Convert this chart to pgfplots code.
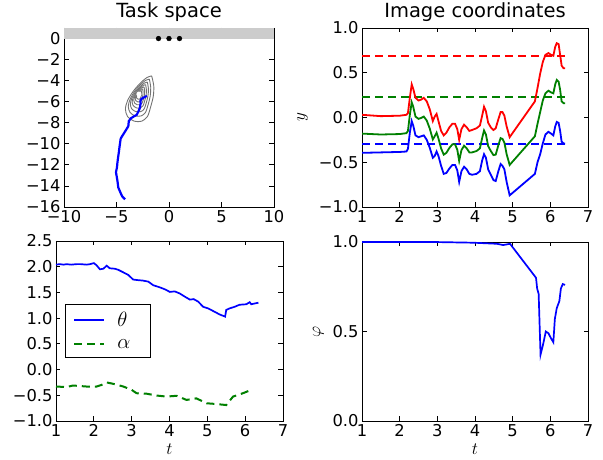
\documentclass[border=0pt]{standalone}
\usepackage{fontspec}
\setmainfont{DejaVu Sans}
\usepackage{pgfplots}
\pgfplotsset{compat=1.18}

\definecolor{mblue}{rgb}{0,0,1}
\definecolor{mgreen}{rgb}{0,0.5,0}
\definecolor{mred}{rgb}{1,0,0}
\definecolor{band}{rgb}{0.8,0.8,0.8}
\definecolor{cont}{rgb}{0.45,0.45,0.45}

\pgfplotsset{
  every axis/.append style={
    scale only axis,
    anchor=south west,
    axis line style={line width=0.9pt},
    tick style={black, line width=0.8pt},
    major tick length=4.5pt,
    tick align=inside,
    /pgf/number format/assume math mode=true,
    tick label style={font=\fontsize{16.3}{18}\selectfont},
    label style={font=\fontsize{16.3}{18}\selectfont},
    title style={font=\fontsize{19.5}{22}\selectfont, yshift=-3pt},
  },
}

\begin{document}
\begin{tikzpicture}[x=1pt,y=1pt]
\useasboundingbox (0,0) rectangle (603,460);

% task space
\begin{axis}[at={(64pt,253pt)}, width=210pt, height=179pt,
  xmin=-10, xmax=10, ymin=-16, ymax=1,
  title={Task space},
  xtick={-10,-5,0,5,10}, xticklabels={−10,−5,0,5,10},
  ytick={-16,-14,-12,-10,-8,-6,-4,-2,0},
  yticklabels={−16,−14,−12,−10,−8,−6,−4,−2,0}]
\addplot[fill=band, draw=none] coordinates {(-10,0) (10,0) (10,1) (-10,1)} -- cycle;
\addplot[only marks, mark=*, mark size=2.4pt, black] coordinates {(-1,0) (0,0) (1,0)};
% density contours
\addplot[draw=cont, line width=0.9pt, smooth] coordinates {(-1.65,-3.55) (-1.45,-4.50) (-1.50,-5.50) (-1.75,-6.50) (-2.05,-7.40) (-2.60,-7.85) (-3.30,-7.85) (-3.95,-7.40) (-4.15,-6.70) (-3.95,-5.90) (-3.40,-5.00) (-2.70,-4.20) (-2.10,-3.70) (-1.65,-3.55)};
\addplot[draw=cont, line width=0.9pt, smooth] coordinates {(-1.87,-3.86) (-1.74,-4.64) (-1.79,-5.46) (-1.99,-6.28) (-2.24,-7.02) (-2.65,-7.35) (-3.22,-7.35) (-3.71,-7.02) (-3.88,-6.44) (-3.71,-5.79) (-3.30,-5.05) (-2.73,-4.39) (-2.24,-3.98) (-1.87,-3.86)};
\addplot[draw=cont, line width=0.9pt, smooth] coordinates {(-2.06,-4.14) (-1.96,-4.77) (-2.00,-5.43) (-2.16,-6.09) (-2.36,-6.68) (-2.69,-6.94) (-3.15,-6.94) (-3.55,-6.68) (-3.68,-6.22) (-3.55,-5.69) (-3.22,-5.10) (-2.75,-4.57) (-2.36,-4.24) (-2.06,-4.14)};
\addplot[draw=cont, line width=0.9pt, smooth] coordinates {(-2.23,-4.38) (-2.15,-4.87) (-2.18,-5.39) (-2.31,-5.91) (-2.47,-6.38) (-2.72,-6.59) (-3.09,-6.59) (-3.40,-6.38) (-3.51,-6.02) (-3.40,-5.60) (-3.14,-5.13) (-2.78,-4.72) (-2.47,-4.46) (-2.23,-4.38)};
\addplot[draw=cont, line width=0.9pt, smooth] coordinates {(-2.38,-4.59) (-2.32,-4.97) (-2.34,-5.37) (-2.44,-5.77) (-2.56,-6.13) (-2.76,-6.29) (-3.04,-6.29) (-3.28,-6.13) (-3.36,-5.85) (-3.28,-5.53) (-3.08,-5.17) (-2.80,-4.85) (-2.56,-4.65) (-2.38,-4.59)};
\addplot[draw=cont, line width=0.9pt, smooth] coordinates {(-2.51,-4.78) (-2.47,-5.05) (-2.48,-5.34) (-2.55,-5.63) (-2.64,-5.90) (-2.79,-6.01) (-2.99,-6.01) (-3.16,-5.90) (-3.22,-5.69) (-3.16,-5.46) (-3.02,-5.20) (-2.81,-4.97) (-2.64,-4.82) (-2.51,-4.78)};
\addplot[draw=cont, line width=0.9pt, smooth] coordinates {(-2.63,-4.95) (-2.60,-5.13) (-2.61,-5.32) (-2.66,-5.51) (-2.72,-5.68) (-2.81,-5.76) (-2.94,-5.76) (-3.06,-5.68) (-3.10,-5.55) (-3.06,-5.40) (-2.96,-5.23) (-2.83,-5.08) (-2.72,-4.98) (-2.63,-4.95)};
% trajectory
\addplot[mblue, line width=2.2pt] coordinates {
  (-4.19,-15.27) (-4.45,-15.0) (-4.55,-14.8) (-4.83,-14.15) (-4.92,-13.45)
  (-5.05,-12.7) (-4.95,-12.2) (-4.92,-11.86) (-4.85,-11.3) (-4.79,-10.9)
  (-4.70,-10.2) (-4.60,-9.5) (-4.45,-9.25) (-4.19,-8.84) (-3.95,-8.45)
  (-3.87,-8.3) (-3.83,-7.85) (-3.62,-7.57) (-3.35,-7.4) (-3.08,-7.25)
  (-2.90,-6.9) (-2.78,-6.6) (-2.70,-6.14) (-2.72,-5.9) (-2.60,-5.72)
  (-2.40,-5.6) (-2.10,-5.45)};
\addplot[only marks, mark=*, mark size=2.3pt, fill=white, draw=white] coordinates {(-2.86,-5.28)};
\end{axis}

% image coordinates
\begin{axis}[at={(362pt,253pt)}, width=226pt, height=179pt,
  xmin=1, xmax=7, ymin=-1, ymax=1,
  title={Image coordinates},
  xtick={1,2,3,4,5,6,7},
  ytick={-1,-0.5,0,0.5,1}, yticklabels={−1.0,−0.5,0.0,0.5,1.0},
  ylabel={$y$}, ylabel shift=4pt]
% targets
\addplot[draw=mred, line width=1.8pt, dash pattern=on 8pt off 5pt] coordinates {(1,0.69) (6.39,0.69)};
\addplot[draw=mgreen, line width=1.8pt, dash pattern=on 8pt off 5pt] coordinates {(1,0.225) (6.39,0.225)};
\addplot[draw=mblue, line width=1.8pt, dash pattern=on 8pt off 5pt] coordinates {(1,-0.30) (6.39,-0.30)};
\addplot[mred, line width=1.8pt] coordinates {
  (1.00,0.03) (1.50,0.015) (2.00,0.02) (2.18,0.03) (2.22,0.05) (2.27,0.22)
  (2.32,0.37) (2.36,0.32) (2.42,0.22) (2.50,0.19) (2.57,0.20) (2.64,0.22)
  (2.72,0.18) (2.80,0.09) (2.88,-0.04) (2.93,0.01) (2.98,0.04) (3.03,-0.04)
  (3.10,-0.15) (3.17,-0.20) (3.24,-0.17) (3.32,-0.11) (3.40,-0.07) (3.47,-0.07)
  (3.53,-0.13) (3.58,-0.25) (3.64,-0.13) (3.71,-0.08) (3.78,-0.11) (3.85,-0.15)
  (3.92,-0.14) (4.04,-0.12) (4.13,-0.09) (4.19,0.02) (4.24,0.12) (4.29,0.07)
  (4.35,-0.06) (4.42,-0.11) (4.49,-0.14) (4.55,-0.12) (4.62,-0.02) (4.68,0.06)
  (4.73,0.06) (4.78,0.02) (4.84,-0.10) (4.92,-0.22) (5.59,0.18) (5.66,0.33)
  (5.73,0.49) (5.80,0.62) (5.87,0.70) (5.95,0.72) (6.02,0.70) (6.08,0.69)
  (6.13,0.79) (6.17,0.83) (6.22,0.82) (6.26,0.70) (6.30,0.58) (6.35,0.55) (6.39,0.55)};
\addplot[mgreen, line width=1.8pt] coordinates {
  (1.00,-0.18) (1.50,-0.19) (2.00,-0.185) (2.18,-0.175) (2.22,-0.15) (2.27,0.03)
  (2.32,0.17) (2.36,0.12) (2.42,0.01) (2.50,-0.015) (2.57,-0.005) (2.64,0.01)
  (2.72,-0.035) (2.80,-0.125) (2.88,-0.245) (2.93,-0.21) (2.98,-0.17) (3.03,-0.235)
  (3.10,-0.345) (3.17,-0.415) (3.24,-0.395) (3.32,-0.34) (3.40,-0.30) (3.47,-0.30)
  (3.53,-0.36) (3.58,-0.485) (3.64,-0.365) (3.71,-0.315) (3.78,-0.345) (3.85,-0.39)
  (3.92,-0.39) (4.04,-0.375) (4.13,-0.345) (4.19,-0.23) (4.24,-0.145) (4.29,-0.19)
  (4.35,-0.32) (4.42,-0.375) (4.49,-0.42) (4.55,-0.415) (4.62,-0.31) (4.68,-0.23)
  (4.73,-0.24) (4.78,-0.28) (4.84,-0.41) (4.92,-0.53) (5.59,-0.21) (5.66,-0.07)
  (5.73,0.06) (5.80,0.19) (5.87,0.27) (5.95,0.30) (6.02,0.28) (6.08,0.27)
  (6.13,0.37) (6.17,0.42) (6.22,0.40) (6.26,0.31) (6.30,0.18) (6.35,0.16) (6.39,0.16)};
\addplot[mblue, line width=1.8pt] coordinates {
  (1.00,-0.395) (1.50,-0.39) (2.00,-0.385) (2.18,-0.38) (2.22,-0.35) (2.27,-0.17)
  (2.32,-0.04) (2.36,-0.09) (2.42,-0.20) (2.50,-0.22) (2.57,-0.21) (2.64,-0.20)
  (2.72,-0.25) (2.80,-0.34) (2.88,-0.45) (2.93,-0.43) (2.98,-0.38) (3.03,-0.43)
  (3.10,-0.54) (3.17,-0.63) (3.24,-0.62) (3.32,-0.57) (3.40,-0.53) (3.47,-0.53)
  (3.53,-0.59) (3.58,-0.72) (3.64,-0.60) (3.71,-0.55) (3.78,-0.58) (3.85,-0.63)
  (3.92,-0.64) (4.04,-0.63) (4.13,-0.60) (4.19,-0.48) (4.24,-0.41) (4.29,-0.45)
  (4.35,-0.58) (4.42,-0.64) (4.49,-0.70) (4.55,-0.71) (4.62,-0.60) (4.68,-0.52)
  (4.73,-0.54) (4.78,-0.58) (4.84,-0.72) (4.92,-0.87) (5.59,-0.63) (5.66,-0.50)
  (5.73,-0.41) (5.80,-0.29) (5.87,-0.19) (5.95,-0.16) (6.02,-0.18) (6.08,-0.20)
  (6.13,-0.10) (6.17,-0.05) (6.22,-0.06) (6.26,-0.15) (6.30,-0.27) (6.35,-0.29) (6.39,-0.29)};
\end{axis}

% angles
\begin{axis}[at={(56pt,39pt)}, width=227pt, height=180pt,
  xmin=1, xmax=7, ymin=-1, ymax=2.5,
  xtick={1,2,3,4,5,6,7},
  ytick={-1,-0.5,0,0.5,1,1.5,2,2.5},
  yticklabels={−1.0,−0.5,0.0,0.5,1.0,1.5,2.0,2.5},
  xlabel={$t$},
  reverse legend,
  legend cell align=left,
  legend image code/.code={\draw[#1] (0pt,0pt) -- (30pt,0pt);},
  legend style={at={(0.04,0.5)}, anchor=west, draw=black,
    font=\fontsize{19.5}{22}\selectfont, row sep=7pt, inner xsep=8pt, inner ysep=6pt,
    nodes={inner xsep=12pt}}]
\addplot[draw=mgreen, line width=2pt, dash pattern=on 8pt off 5pt] coordinates {
  (1.00,-0.33) (1.28,-0.34) (1.45,-0.31) (1.81,-0.33) (2.07,-0.33) (2.20,-0.30)
  (2.34,-0.25) (2.56,-0.285) (2.78,-0.33) (3.00,-0.395) (3.13,-0.46) (3.40,-0.47)
  (3.66,-0.505) (3.92,-0.525) (4.19,-0.51) (4.45,-0.59) (4.71,-0.56) (4.98,-0.655)
  (5.24,-0.67) (5.50,-0.69) (5.68,-0.525) (5.94,-0.46) (6.16,-0.395)};
\addlegendentry{$\alpha$}
\addplot[draw=mblue, line width=1.7pt] coordinates {
  (1.00,2.04) (1.10,2.05) (1.20,2.04) (1.28,2.05) (1.40,2.04) (1.545,2.05)
  (1.65,2.05) (1.81,2.04) (1.90,2.05) (2.00,2.07) (2.07,2.03) (2.16,1.95)
  (2.25,1.96) (2.34,2.02) (2.42,1.97) (2.56,1.96) (2.645,1.94) (2.78,1.89)
  (2.91,1.84) (3.04,1.75) (3.15,1.74) (3.30,1.73) (3.44,1.71) (3.57,1.64)
  (3.74,1.60) (3.88,1.56) (4.01,1.51) (4.14,1.52) (4.27,1.48) (4.40,1.42)
  (4.54,1.36) (4.64,1.37) (4.76,1.32) (4.89,1.22) (5.02,1.19) (5.15,1.14)
  (5.33,1.07) (5.47,1.03) (5.50,1.16) (5.59,1.19) (5.72,1.22) (5.85,1.26)
  (6.03,1.27) (6.12,1.31) (6.16,1.27) (6.22,1.28) (6.35,1.30)};
\addlegendentry{$\theta$}
\end{axis}

% phi
\begin{axis}[at={(362pt,39pt)}, width=226pt, height=179pt,
  xmin=1, xmax=7, ymin=0, ymax=1, clip=false,
  xtick={1,2,3,4,5,6,7},
  ytick={0,0.5,1}, yticklabels={0.0,0.5,1.0},
  xlabel={$t$}, ylabel={$\varphi$}, ylabel shift=2pt]
\addplot[mblue, line width=1.7pt] coordinates {
  (1.00,1.0) (2.89,1.0) (3.96,0.996) (4.58,0.99) (4.75,0.983) (4.93,0.99)
  (5.62,0.80) (5.65,0.74) (5.69,0.71) (5.74,0.37) (5.81,0.43) (5.88,0.50)
  (5.95,0.49) (6.01,0.465) (6.08,0.44) (6.12,0.57) (6.17,0.63) (6.24,0.67)
  (6.28,0.74) (6.33,0.765) (6.39,0.76)};
\end{axis}
\end{tikzpicture}
\end{document}
